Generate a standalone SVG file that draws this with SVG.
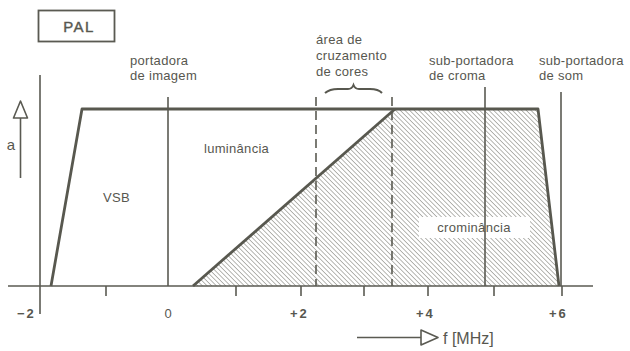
<svg xmlns="http://www.w3.org/2000/svg" width="630" height="351" viewBox="0 0 630 351">
<style>
text{font-family:"Liberation Sans",Arial,sans-serif;fill:#57574f;}
.lbl{font-size:13px;letter-spacing:0.3px;}
.num{font-size:13px;font-weight:bold;letter-spacing:2px;}
.thin{stroke:#5a5a52;stroke-width:1.6;fill:none;}
.thick{stroke:#58584f;stroke-width:2.8;fill:none;stroke-linejoin:round;}
.dash{stroke:#5a5a52;stroke-width:1.6;fill:none;stroke-dasharray:9 5;}
</style>
<defs>
<pattern id="hatch" width="3.3" height="3.3" patternUnits="userSpaceOnUse" patternTransform="rotate(-45)">
<line x1="0" y1="0" x2="0" y2="3.3" stroke="#6e6e66" stroke-width="1"/>
</pattern>
</defs>
<rect width="630" height="351" fill="#ffffff"/>

<g id="title">
<rect x="38.5" y="10.5" width="76" height="31" fill="none" stroke="#5a5a52" stroke-width="1.8"/>
<text x="79" y="32" font-size="15" text-anchor="middle" letter-spacing="1.5" stroke="#57574f" stroke-width="0.4">PAL</text>
</g>

<g id="chroma-band">
<polygon points="193,286 395,109 538,109 559,286" fill="url(#hatch)" stroke="none"/>
<rect x="419" y="217" width="111" height="21" fill="#ffffff"/>
<text class="lbl" x="474" y="232" text-anchor="middle">crominância</text>
</g>

<g id="axes">
<line class="thin" x1="8" y1="286" x2="593" y2="286"/>
<line class="thin" x1="40" y1="75" x2="40" y2="314"/>
<line class="thin" x1="106" y1="286" x2="106" y2="296"/>
<line class="thin" x1="236" y1="286" x2="236" y2="296"/>
<line class="thin" x1="301" y1="286" x2="301" y2="296"/>
<line class="thin" x1="364" y1="286" x2="364" y2="296"/>
<line class="thin" x1="428" y1="286" x2="428" y2="296"/>
<line class="thin" x1="494" y1="286" x2="494" y2="296"/>
<line class="thin" x1="562" y1="286" x2="562" y2="296"/>
<text class="num" x="17" y="318">−2</text>
<text x="168" y="318" font-size="13" text-anchor="middle">0</text>
<text class="num" x="290" y="318">+2</text>
<text class="num" x="416" y="318">+4</text>
<text class="num" x="549" y="318">+6</text>
</g>

<g id="a-axis">
<line class="thin" x1="20.5" y1="118" x2="20.5" y2="178"/>
<polygon points="20.5,101 13.5,118 27.5,118" fill="#ffffff" stroke="#5a5a52" stroke-width="1.6" stroke-linejoin="round"/>
<text x="11" y="150" font-size="15" text-anchor="middle">a</text>
</g>

<g id="f-axis">
<line class="thin" x1="357" y1="337.5" x2="421" y2="337.5"/>
<polygon points="421,330 421,345 438,337.5" fill="#ffffff" stroke="#5a5a52" stroke-width="1.6" stroke-linejoin="round"/>
<text x="443" y="344" font-size="16">f [MHz]</text>
</g>

<g id="carriers">
<line class="thin" x1="168" y1="97" x2="168" y2="286"/>
<line class="thin" x1="485" y1="87" x2="485" y2="286"/>
<line class="thin" x1="561" y1="92" x2="561" y2="286"/>
<line class="dash" x1="316" y1="97" x2="316" y2="286"/>
<line class="dash" x1="392" y1="97" x2="392" y2="286"/>
</g>

<g id="curves">
<polyline class="thick" points="51,286 82,109 538,109 559,286"/>
<line class="thick" x1="193" y1="286" x2="395" y2="109"/>
</g>

<g id="brace">
<path d="M325,93 Q330,88.5 340,89 L348,89 Q352,89 353.5,85 Q355,89 359,89 L368,89 Q378,88.5 382,93" fill="none" stroke="#58584f" stroke-width="2"/>
</g>

<g id="labels">
<text class="lbl" x="130" y="65">portadora</text>
<text class="lbl" x="130" y="80">de imagem</text>
<text class="lbl" x="316" y="44">área de</text>
<text class="lbl" x="316" y="60">cruzamento</text>
<text class="lbl" x="316" y="76">de cores</text>
<text class="lbl" x="429" y="65">sub-portadora</text>
<text class="lbl" x="429" y="80">de croma</text>
<text class="lbl" x="539" y="65">sub-portadora</text>
<text class="lbl" x="539" y="80">de som</text>
<text class="lbl" x="204" y="153">luminância</text>
<text class="lbl" x="103" y="202">VSB</text>
</g>
</svg>
